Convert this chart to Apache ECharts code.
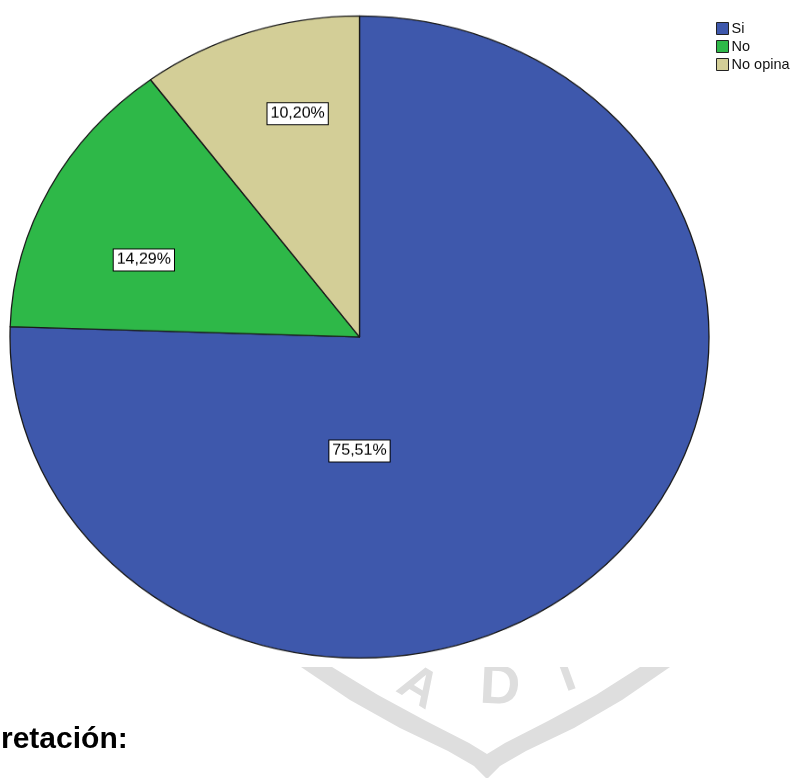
<!DOCTYPE html>
<html><head><meta charset="utf-8">
<script src="https://cdn.jsdelivr.net/npm/echarts@6.0.0/dist/echarts.min.js"></script>
<style>
html,body{margin:0;padding:0;background:#fff;}
#wrap{position:relative;width:795px;height:778px;overflow:hidden;background:#fff;}
#base{position:absolute;left:0;top:0;width:795px;height:778px;}
#pie{position:absolute;left:0;top:0;width:795px;height:847px;transform:scaleY(0.9185);transform-origin:0 0;}
</style></head><body>
<div id="wrap"><div id="base"></div><div id="pie"></div></div>
<script>
const categories = ['Si', 'No', 'No opina'];
const percentages = [75.51, 14.29, 10.20];
const colors = ['#3E58AC', '#2EB848', '#D3CE97'];
const bottomText = 'retación:';
const watermarkLetters = ['A', 'D', 'I'];

const FONT = 'Liberation Sans, Arial, sans-serif';
const pieData = categories.map((c, i) => ({ name: c, value: percentages[i] }));

// Base layer: watermark, legend, caption text
const base = echarts.init(document.getElementById('base'), null, { renderer: 'canvas' });
const wmColor = '#dedede';
base.setOption({
  animation: false,
  backgroundColor: '#fff',
  color: colors,
  legend: {
    orient: 'vertical', left: 711, top: 16,
    itemWidth: 12, itemHeight: 12, itemGap: 3, icon: 'rect',
    itemStyle: { borderColor: '#222', borderWidth: 1 },
    textStyle: { fontSize: 14.5, color: '#111', fontFamily: FONT, padding: [0, 0, 0, -2] },
    data: categories
  },
  series: [{
    type: 'pie', center: [-200, -200], radius: 1, silent: true,
    label: { show: false }, labelLine: { show: false }, data: pieData
  }],
  graphic: [
    { type: 'polygon', z: 1, silent: true,
      shape: { points: [[301,667],[350,700],[400,728],[448,751],[474,766],[487,779],[500,766],[526,751],[574,728],[622,700],[670,667],
                        [640,667],[596,695],[548,721],[505,743],[487,754],[469,743],[426,721],[378,695],[332,667]] },
      style: { fill: wmColor } },
    { type: 'text', z: 1, silent: true, x: 418, y: 688, rotation: -0.55,
      style: { text: watermarkLetters[0], font: 'bold 52px ' + FONT, fill: wmColor, align: 'center', verticalAlign: 'middle' } },
    { type: 'text', z: 1, silent: true, x: 500, y: 688, rotation: -0.05,
      style: { text: watermarkLetters[1], font: 'bold 56px ' + FONT, fill: wmColor, align: 'center', verticalAlign: 'middle' } },
    { type: 'text', z: 1, silent: true, x: 567, y: 676, rotation: 0.35,
      style: { text: watermarkLetters[2], font: 'bold 52px ' + FONT, fill: wmColor, align: 'center', verticalAlign: 'middle' } },
    { type: 'rect', z: 2, silent: true, shape: { x: 0, y: 0, width: 795, height: 667 }, style: { fill: '#fff' } },
    { type: 'text', z: 3, silent: true, x: 1, y: 740,
      style: { text: bottomText, font: 'bold 30px ' + FONT, fill: '#000', align: 'left', verticalAlign: 'middle' } }
  ]
});

// Pie layer (stretched to an ellipse via CSS scaleY)
const R = 349.5, CX = 359.5, CY = 366.9;
const pie = echarts.init(document.getElementById('pie'), null, { renderer: 'canvas' });
pie.setOption({
  animation: false,
  backgroundColor: 'transparent',
  color: colors,
  series: [{
    type: 'pie',
    center: [CX, CY], radius: R,
    startAngle: 90, clockwise: true,
    avoidLabelOverlap: false,
    itemStyle: { borderColor: '#1a1a1a', borderWidth: 1.3 },
    emphasis: { disabled: true },
    label: {
      show: true, position: 'inside',
      formatter: p => p.value.toFixed(2).replace('.', ',') + '%',
      fontSize: 16, fontFamily: FONT, color: '#000',
      backgroundColor: '#fff', borderColor: '#000', borderWidth: 1,
      padding: [4, 3, 3, 3]
    },
    labelLine: { show: false },
    labelLayout: function (params) {
      const spots = [[0, 0.355], [-0.617, -0.240], [-0.177, -0.696]];
      const s = spots[params.dataIndex];
      return { x: CX + s[0] * R, y: CY + s[1] * R, align: 'center', verticalAlign: 'middle' };
    },
    data: pieData
  }]
});
</script>
</body></html>
